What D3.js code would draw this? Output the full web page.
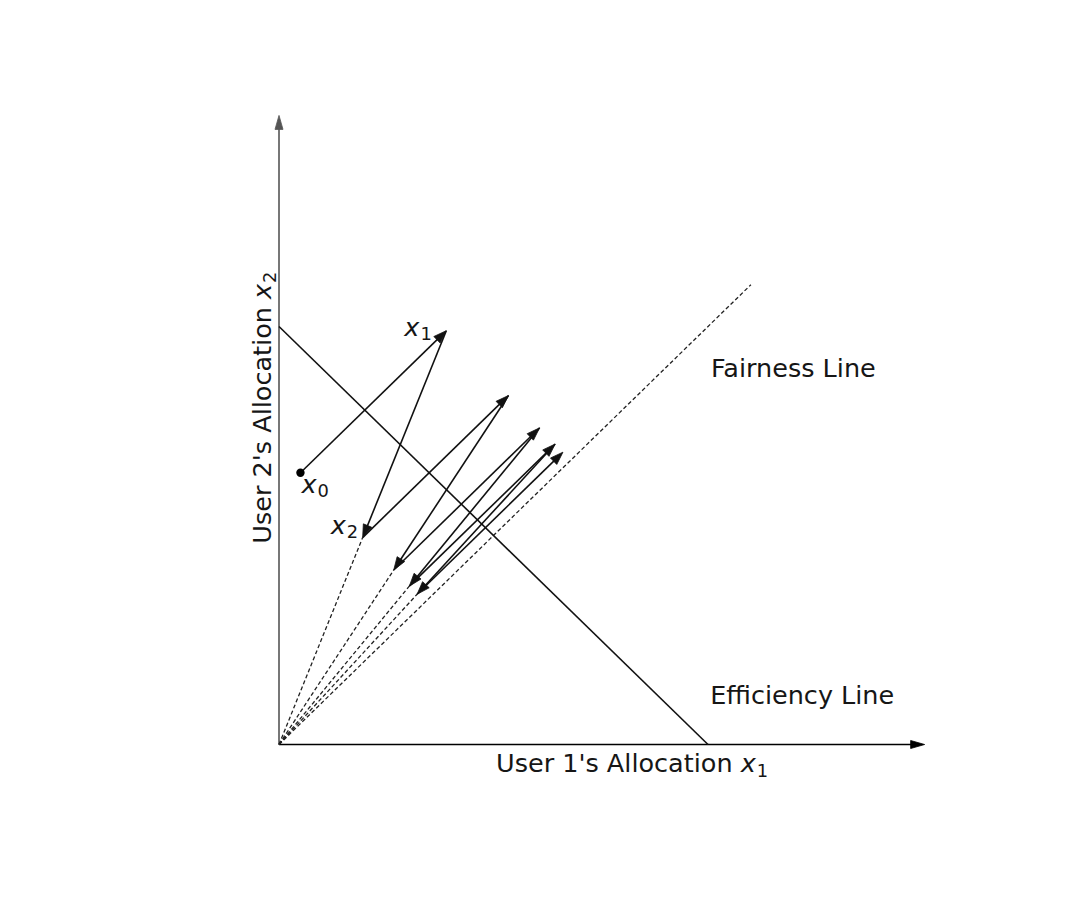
<!DOCTYPE html>
<html>
<head>
<meta charset="utf-8">
<script src="https://cdn.jsdelivr.net/npm/d3@7"></script>
<style>
  html, body { margin: 0; padding: 0; background: #fff; }
  svg { display: block; }
  text { font-family: "DejaVu Sans", sans-serif; fill: #161616; }
</style>
</head>
<body>
<svg id="chart" width="1068" height="902"></svg>
<script>
// ---- data ----
// trajectory points x0 .. x9 (user 1 allocation, user 2 allocation)
const user1Alloc = [0.05, 0.39, 0.195, 0.535, 0.2675, 0.6075, 0.30375, 0.64375, 0.321875, 0.661875];
const user2Alloc = [0.65, 0.99, 0.495, 0.835, 0.4175, 0.7575, 0.37875, 0.71875, 0.359375, 0.699375];
// indices of points that are joined to the origin by a dashed line
const rayIndices = [2, 4, 6, 8];
// efficiency line x1 + x2 = 1
const efficiencyX = [0, 1];
const efficiencyY = [1, 0];
// fairness line x1 = x2
const fairnessX = [0, 1.1];
const fairnessY = [0, 1.1];
const axisMax = 1.505;
const pointLabels = ["0", "1", "2"];
const annotations = ["Fairness Line", "Efficiency Line"];
const xAxisLabel = "User 1's Allocation ";
const yAxisLabel = "User 2's Allocation ";

// ---- drawing ----
const svg = d3.select("#chart");
svg.append("rect").attr("width", 1068).attr("height", 902).attr("fill", "#fff");

const xs = d3.scaleLinear().domain([0, 1.5]).range([279, 922.5]);
const ys = d3.scaleLinear().domain([0, 1.5]).range([744.5, 117.5]);

function arrow(g, x1, y1, x2, y2, L, W, sw, color) {
  const dx = x2 - x1, dy = y2 - y1;
  const len = Math.hypot(dx, dy);
  const ux = dx / len, uy = dy / len;
  const nx = -uy, ny = ux;
  const bx = x2 - ux * L, by = y2 - uy * L;
  g.append("line")
    .attr("x1", x1).attr("y1", y1)
    .attr("x2", bx + ux * 2).attr("y2", by + uy * 2)
    .attr("stroke", color).attr("stroke-width", sw);
  g.append("path")
    .attr("d", `M${x2},${y2}L${bx + nx * W},${by + ny * W}L${bx - nx * W},${by - ny * W}Z`)
    .attr("fill", color).attr("stroke", color).attr("stroke-width", 0.8)
    .attr("stroke-linejoin", "miter");
}

const gAxes = svg.append("g");
// x axis
arrow(gAxes, xs(0), ys(0), xs(axisMax), ys(0), 14, 4, 1.6, "#000");
// y axis
arrow(gAxes, xs(0), ys(0), xs(0), ys(axisMax), 14, 4, 1.6, "#555");

// dashed rays
const gDash = svg.append("g");
rayIndices.forEach(i => {
  gDash.append("line")
    .attr("x1", xs(0)).attr("y1", ys(0))
    .attr("x2", xs(user1Alloc[i])).attr("y2", ys(user2Alloc[i]))
    .attr("stroke", "#222").attr("stroke-width", 1.3)
    .attr("stroke-dasharray", "4,2.5");
});
// fairness line
gDash.append("line")
  .attr("x1", xs(fairnessX[0])).attr("y1", ys(fairnessY[0]))
  .attr("x2", xs(fairnessX[1])).attr("y2", ys(fairnessY[1]))
  .attr("stroke", "#222").attr("stroke-width", 1.3)
  .attr("stroke-dasharray", "4,2.5");

// efficiency line
svg.append("line")
  .attr("x1", xs(efficiencyX[0])).attr("y1", ys(efficiencyY[0]))
  .attr("x2", xs(efficiencyX[1])).attr("y2", ys(efficiencyY[1]))
  .attr("stroke", "#111").attr("stroke-width", 1.6);

// trajectory arrows
const gTraj = svg.append("g");
for (let i = 0; i < user1Alloc.length - 1; i++) {
  arrow(gTraj, xs(user1Alloc[i]), ys(user2Alloc[i]), xs(user1Alloc[i + 1]), ys(user2Alloc[i + 1]), 13, 4.5, 1.6, "#111");
}
// start point
svg.append("circle")
  .attr("cx", xs(user1Alloc[0])).attr("cy", ys(user2Alloc[0]))
  .attr("r", 4.2).attr("fill", "#000");

// math labels
const FS = 25.5;
function mathLabel(x, y, sub, anchor) {
  const t = svg.append("text").attr("x", x).attr("y", y)
    .attr("font-size", FS).attr("text-anchor", anchor || "start");
  t.append("tspan").attr("font-style", "italic").text("x");
  t.append("tspan").attr("font-size", FS * 0.7).attr("dy", 4.5).attr("dx", 1).text(sub);
  return t;
}
// point labels
mathLabel(xs(user1Alloc[0]) + 1, ys(user2Alloc[0]) + 20, pointLabels[0]);
mathLabel(xs(user1Alloc[1]) - 42, ys(user2Alloc[1]) + 5, pointLabels[1]);
mathLabel(xs(user1Alloc[2]) - 32, ys(user2Alloc[2]) - 4, pointLabels[2]);

// line annotations
svg.append("text").attr("x", xs(1.007)).attr("y", ys(0.878))
  .attr("font-size", FS).text(annotations[0]);
svg.append("text").attr("x", xs(1.005)).attr("y", ys(0.098))
  .attr("font-size", FS).text(annotations[1]);

// axis labels
const xl = svg.append("text").attr("x", xs(0.823)).attr("y", ys(0) + 27.5)
  .attr("font-size", FS).attr("text-anchor", "middle");
xl.append("tspan").text(xAxisLabel);
xl.append("tspan").attr("font-style", "italic").text("x");
xl.append("tspan").attr("font-size", FS * 0.7).attr("dy", 4.5).attr("dx", 1).text("1");

const yl = svg.append("text")
  .attr("transform", `translate(${xs(0) - 8},${ys(0.806)}) rotate(-90)`)
  .attr("font-size", FS).attr("text-anchor", "middle");
yl.append("tspan").text(yAxisLabel);
yl.append("tspan").attr("font-style", "italic").text("x");
yl.append("tspan").attr("font-size", FS * 0.7).attr("dy", 4.5).attr("dx", 1).text("2");
</script>
</body>
</html>
